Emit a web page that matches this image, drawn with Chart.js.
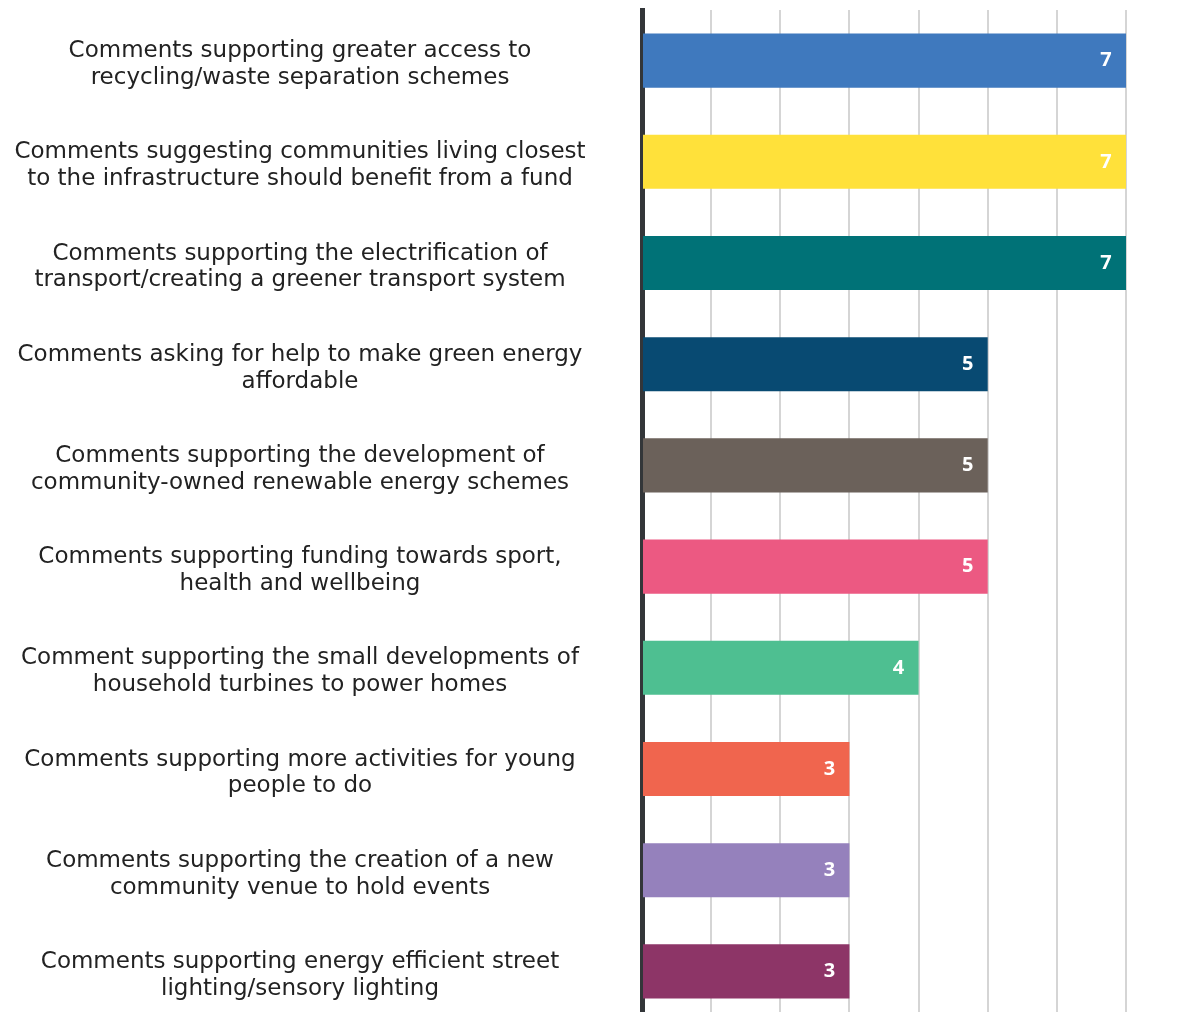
<!DOCTYPE html>
<html>
<head>
<meta charset="utf-8">
<script src="https://cdn.jsdelivr.net/npm/chart.js@4/dist/chart.umd.min.js"></script>
<style>
  html, body { margin:0; padding:0; background:#fff; overflow:hidden; }
  #wrap { width:1189px; height:1022px; position:relative; }
</style>
</head>
<body>
<div id="wrap"><canvas id="chart"></canvas></div>
<script>
const categories = [
  ['Comments supporting greater access to', 'recycling/waste separation schemes'],
  ['Comments suggesting communities living closest', 'to the infrastructure should benefit from a fund'],
  ['Comments supporting the electrification of', 'transport/creating a greener transport system'],
  ['Comments asking for help to make green energy', 'affordable'],
  ['Comments supporting the development of', 'community-owned renewable energy schemes'],
  ['Comments supporting funding towards sport,', 'health and wellbeing'],
  ['Comment supporting the small developments of', 'household turbines to power homes'],
  ['Comments supporting more activities for young', 'people to do'],
  ['Comments supporting the creation of a new', 'community venue to hold events'],
  ['Comments supporting energy efficient street', 'lighting/sensory lighting']
];
const counts = [7, 7, 7, 5, 5, 5, 4, 3, 3, 3];
const barColors = ['#3F79BE', '#FFE13A', '#007277', '#084A72', '#6B615A', '#EC5982', '#4EBF91', '#F0654E', '#9581BC', '#8D3567'];

const LABEL_FONT = { family: "'DejaVu Sans', sans-serif", size: 23, lineHeight: 1.17 };
const AXIS_RIGHT = 642;
const LABEL_CENTER = 300;

// widest label line decides where chart.js puts centred tick labels
const mctx = document.createElement('canvas').getContext('2d');
mctx.font = LABEL_FONT.size + 'px ' + LABEL_FONT.family;
let widest = 0;
categories.forEach(c => c.forEach(l => { widest = Math.max(widest, mctx.measureText(l).width); }));
const tickPad = AXIS_RIGHT - LABEL_CENTER - widest / 2;

const valueLabels = {
  id: 'valueLabels',
  afterDatasetsDraw(chart) {
    const ctx = chart.ctx;
    const meta = chart.getDatasetMeta(0);
    ctx.save();
    ctx.fillStyle = '#fff';
    ctx.font = "bold 20px 'Open Sans', sans-serif";
    ctx.textAlign = 'center';
    ctx.textBaseline = 'middle';
    meta.data.forEach((bar, i) => {
      ctx.fillText(String(counts[i]), bar.x - 20, bar.y);
    });
    ctx.restore();
  }
};

new Chart(document.getElementById('chart'), {
  type: 'bar',
  data: {
    labels: categories,
    datasets: [{ data: counts, backgroundColor: barColors, borderWidth: 0, barPercentage: 0.535, categoryPercentage: 1 }]
  },
  options: {
    indexAxis: 'y',
    responsive: true, maintainAspectRatio: false, animation: false,
    layout: { padding: { top: 10, right: 63, bottom: 0, left: 0 } },
    plugins: { legend: { display: false }, tooltip: { enabled: false } },
    scales: {
      x: {
        min: 0, max: 7,
        z: 1, // grid shows faintly through the bars
        grid: { color: 'rgba(150,150,150,0.4)', lineWidth: 2, drawTicks: false },
        border: { display: false },
        ticks: { display: false, stepSize: 1 }
      },
      y: {
        afterFit(scale) {
          scale.width = AXIS_RIGHT;
          // big tick padding is only for horizontal placement, don't let it eat vertical space
          scale.paddingTop = 0; scale.paddingBottom = 0;
        },
        grid: { display: false, drawTicks: false },
        border: { display: true, color: '#333639', width: 5 },
        ticks: { crossAlign: 'center', padding: tickPad, labelOffset: 4, color: '#222', font: LABEL_FONT }
      }
    }
  },
  plugins: [valueLabels]
});
</script>
</body>
</html>
